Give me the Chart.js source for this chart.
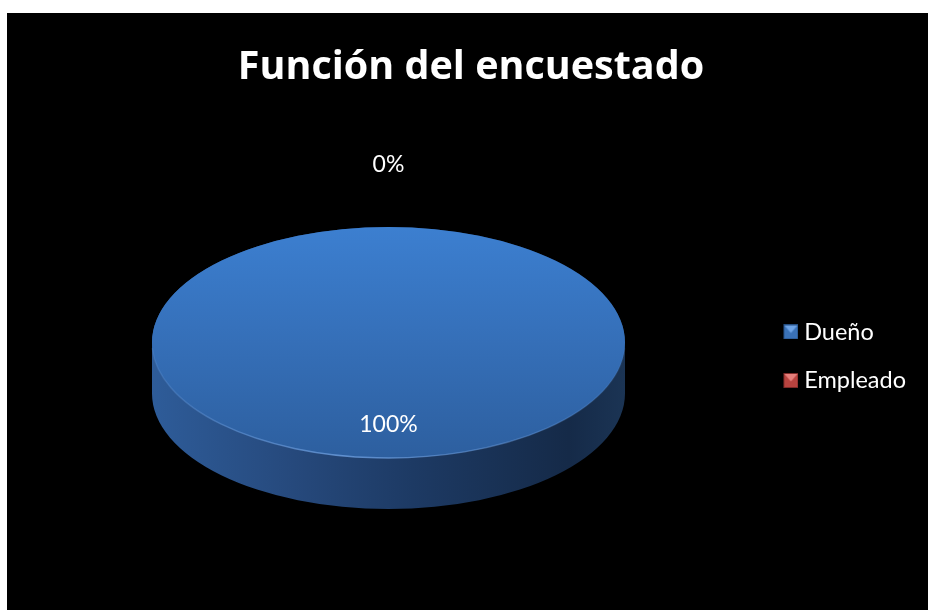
<!DOCTYPE html>
<html lang="es">
<head>
<meta charset="utf-8">
<title>Función del encuestado</title>
<script src="https://cdn.jsdelivr.net/npm/chart.js@4.4.0/dist/chart.umd.min.js"></script>
<style>
    html, body { margin: 0; padding: 0; background: #fff; }
    .chart-box { position: absolute; left: 7px; top: 13px; width: 921px; height: 597px; background: #000; }
</style>
</head>
<body>
<div class="chart-box"><canvas id="roleChart"></canvas></div>
<script>
/* ========================================
   Función del encuestado - 3D pie
   ======================================== */

const categories = ['Dueño', 'Empleado'];
const shares = [100, 0];                      // percent of respondents
const sliceColors = ['#3a78c4', '#c0504d'];

// Ellipse the flat pie gets projected onto (canvas px)
const PIE = { cx: 381.5, cy: 329.5, rx: 236.5, ry: 115.5, depth: 51 };
const LABEL_INSET = 0.71;   // fraction of radius for labels inside a slice
const LABEL_OUTSIDE = 62;   // gap for labels of empty slices

const FONT = 'Lato, "Open Sans", sans-serif';
const TITLE_FONT = '"Open Sans", Lato, sans-serif';

// Small bevelled squares for the legend (left strip kept transparent)
function makeMarker(base, light, dark) {
    const c = document.createElement('canvas');
    c.width = 20; c.height = 15;
    const g = c.getContext('2d');
    g.translate(5, 0);
    g.fillStyle = dark;
    g.fillRect(0, 0, 15, 15);
    g.fillStyle = base;
    g.fillRect(1, 1, 13, 13);
    g.fillStyle = light;
    g.beginPath();
    g.moveTo(1, 1); g.lineTo(14, 1); g.lineTo(7.5, 8.5); g.closePath();
    g.fill();
    return c;
}
const markers = [
    makeMarker('#3a72b8', '#6ea4e6', '#244d80'),
    makeMarker('#b8433f', '#e57f7b', '#7d2a28')
];

// Maps the library's circle onto the tilted ellipse, shifted down by dy
function toEllipse(ctx, arc, dy) {
    const r = arc.outerRadius || 1;
    ctx.translate(PIE.cx, PIE.cy + dy);
    ctx.scale(PIE.rx / r, PIE.ry / r);
    ctx.translate(-arc.x, -arc.y);
}

function addSlicePath(ctx, arc) {
    ctx.moveTo(arc.x, arc.y);
    ctx.arc(arc.x, arc.y, arc.outerRadius, arc.startAngle, arc.endAngle);
    ctx.closePath();
}

const pie3d = {
    id: 'pie3d',
    beforeDatasetDraw(chart, args) {
        const ctx = chart.ctx;
        const arcs = args.meta.data;
        if (!arcs.length) return;

        // side wall: stack of the slice shapes pushed downwards
        const side = ctx.createLinearGradient(PIE.cx - PIE.rx, 0, PIE.cx + PIE.rx, 0);
        side.addColorStop(0, '#2e5c99');
        side.addColorStop(0.3, '#26497c');
        side.addColorStop(0.55, '#1d3a64');
        side.addColorStop(0.88, '#152a48');
        side.addColorStop(1, '#1b3454');

        ctx.save();
        ctx.beginPath();
        arcs.forEach(arc => {
            if (arc.endAngle - arc.startAngle <= 0) return;
            for (let d = PIE.depth; d >= 0; d -= 1) {
                ctx.save();
                toEllipse(ctx, arc, d);
                addSlicePath(ctx, arc);
                ctx.restore();
            }
        });
        ctx.fillStyle = side;
        ctx.fill();
        ctx.restore();

        // top face is drawn by the library inside this transform
        ctx.save();
        toEllipse(ctx, arcs[0], 0);
    },
    afterDatasetDraw(chart, args) {
        const ctx = chart.ctx;
        const arcs = args.meta.data;
        if (!arcs.length) return;
        ctx.restore();

        // light rim on the front edge of the top face
        ctx.save();
        ctx.beginPath();
        ctx.save();
        toEllipse(ctx, arcs[0], 0);
        ctx.arc(arcs[0].x, arcs[0].y, arcs[0].outerRadius, 0.05, Math.PI - 0.05);
        ctx.restore();
        const rim = ctx.createLinearGradient(PIE.cx - PIE.rx, 0, PIE.cx + PIE.rx, 0);
        rim.addColorStop(0, 'rgba(110,160,225,0.2)');
        rim.addColorStop(0.4, 'rgba(110,160,225,0.8)');
        rim.addColorStop(0.7, 'rgba(110,160,225,0.5)');
        rim.addColorStop(1, 'rgba(110,160,225,0.1)');
        ctx.strokeStyle = rim;
        ctx.lineWidth = 1.5;
        ctx.stroke();
        ctx.restore();
    },
    afterDatasetsDraw(chart) {
        const ctx = chart.ctx;
        const meta = chart.getDatasetMeta(0);
        const values = chart.data.datasets[0].data;
        const total = values.reduce((a, b) => a + b, 0);

        ctx.save();
        ctx.fillStyle = '#ffffff';
        ctx.font = '23px ' + FONT;
        ctx.textAlign = 'center';
        ctx.textBaseline = 'middle';
        meta.data.forEach((arc, i) => {
            const mid = (arc.startAngle + arc.endAngle) / 2;
            const pct = Math.round(values[i] / total * 100) + '%';
            let x, y;
            if (values[i] > 0) {
                x = PIE.cx + Math.cos(mid) * PIE.rx * LABEL_INSET;
                y = PIE.cy + Math.sin(mid) * PIE.ry * LABEL_INSET;
            } else {
                x = PIE.cx + Math.cos(mid) * (PIE.rx + LABEL_OUTSIDE);
                y = PIE.cy + Math.sin(mid) * (PIE.ry + LABEL_OUTSIDE);
            }
            ctx.fillText(pct, x, y);
        });
        ctx.restore();
    }
};

// top face: vertical shade across the circle the library lays out
function topFace(context) {
    const chart = context.chart;
    const area = chart.chartArea;
    if (!area) return sliceColors[context.dataIndex];
    if (context.dataIndex !== 0) return sliceColors[context.dataIndex];
    const cy = (area.top + area.bottom) / 2;
    const r = Math.min(area.right - area.left, area.bottom - area.top) / 2;
    const g = chart.ctx.createLinearGradient(0, cy - r, 0, cy + r);
    g.addColorStop(0, '#3c7fd0');
    g.addColorStop(0.5, '#356fb8');
    g.addColorStop(1, '#2d5f9f');
    return g;
}

const ctx = document.getElementById('roleChart');
new Chart(ctx, {
    type: 'pie',
    data: {
        labels: categories,
        datasets: [{
            data: shares,
            backgroundColor: topFace,
            borderWidth: 0,
            clip: false
        }]
    },
    options: {
        responsive: true,
        maintainAspectRatio: false,
        animation: false,
        layout: { padding: { left: 19, right: 12 } },
        plugins: {
            title: {
                display: true,
                text: 'Función del encuestado',
                color: '#ffffff',
                font: { family: TITLE_FONT, size: 39.5, weight: 'bold' },
                padding: { top: 31, bottom: 11 }
            },
            legend: {
                position: 'right',
                fullSize: false,
                labels: {
                    color: '#ffffff',
                    font: { family: FONT, size: 23.5 },
                    padding: 25,
                    usePointStyle: true,
                    pointStyleWidth: 8,
                    generateLabels: (chart) => categories.map((name, i) => ({
                        text: name,
                        fillStyle: sliceColors[i],
                        strokeStyle: sliceColors[i],
                        fontColor: '#ffffff',
                        lineWidth: 0,
                        pointStyle: markers[i],
                        hidden: !chart.getDataVisibility(i),
                        index: i
                    }))
                }
            },
            tooltip: { enabled: false }
        }
    },
    plugins: [pie3d]
});
</script>
</body>
</html>
